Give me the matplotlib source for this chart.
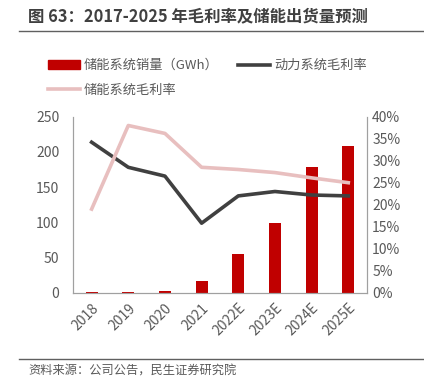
import matplotlib
matplotlib.use('Agg')
import matplotlib.pyplot as plt
from matplotlib.lines import Line2D
from matplotlib.patches import Patch

plt.rcParams['font.family'] = ['Noto Sans CJK SC', 'DejaVu Sans']

years = ['2018', '2019', '2020', '2021', '2022E', '2023E', '2024E', '2025E']
storage_gwh = [0.4, 0.6, 1.8, 16.6, 55.4, 99.4, 179, 209]
power_margin = [34.2, 28.5, 26.5, 15.8, 22.0, 23.0, 22.2, 22.0]
storage_margin = [19.0, 38.0, 36.2, 28.5, 28.0, 27.3, 26.1, 25.0]

grey = '#595959'
red = '#C00000'
dark = '#404040'
pink = '#E8BFBF'

fig = plt.figure(figsize=(4.24, 3.88), dpi=100)
ax = fig.add_axes([73.3/424, 1-292.7/388, 293.3/424, 176/388])
ax2 = ax.twinx()

x = list(range(len(years)))
ax.bar(x, storage_gwh, width=0.33, color=red, zorder=2)
ax2.plot(x, power_margin, color=dark, lw=2.6, zorder=3)
ax2.plot(x, storage_margin, color=pink, lw=2.6, zorder=3)

ax.set_xlim(-0.5, 7.5)
ax.set_ylim(0, 250)
ax.set_yticks([0, 50, 100, 150, 200, 250])
ax2.set_ylim(0, 40)
ax2.set_yticks(range(0, 41, 5))
ax2.set_yticklabels([f'{v}%' for v in range(0, 41, 5)])
ax.set_xticks(x)
ax.set_xticklabels(years, rotation=45, ha='right', rotation_mode='anchor')

for a in (ax, ax2):
    a.tick_params(length=0, labelsize=10, colors=grey, pad=4)
    for s in a.spines.values():
        s.set_color('#A0A0A0')
    a.spines['top'].set_visible(False)
ax.tick_params(axis='y', pad=10)
ax.tick_params(axis='x', pad=6)

handles = [Patch(color=red), Line2D([], [], color=pink, lw=2.6), Line2D([], [], color=dark, lw=2.6)]
labels = ['储能系统销量（GWh）', '储能系统毛利率', '动力系统毛利率']
fig.legend(handles, labels, ncol=2, loc='upper left', bbox_to_anchor=(0.085, 0.878),
           frameon=False, fontsize=9.5, labelcolor=grey, handlelength=2.4,
           handletextpad=0.3, columnspacing=1.5, labelspacing=0.9)

fig.text(28/424, 1-16/388, '图 63：2017-2025 年毛利率及储能出货量预测', fontsize=11.8,
         fontweight='bold', color='#404040', va='center')
fig.add_artist(Line2D([19/424, 1], [1-31/388, 1-31/388], color='#606060', lw=1))
fig.add_artist(Line2D([19/424, 1], [1-359/388, 1-359/388], color='#606060', lw=1))
fig.text(28/424, 1-371/388, '资料来源：公司公告，民生证券研究院', fontsize=8.8,
         color=grey, va='center')

fig.savefig('out.png', dpi=100)
